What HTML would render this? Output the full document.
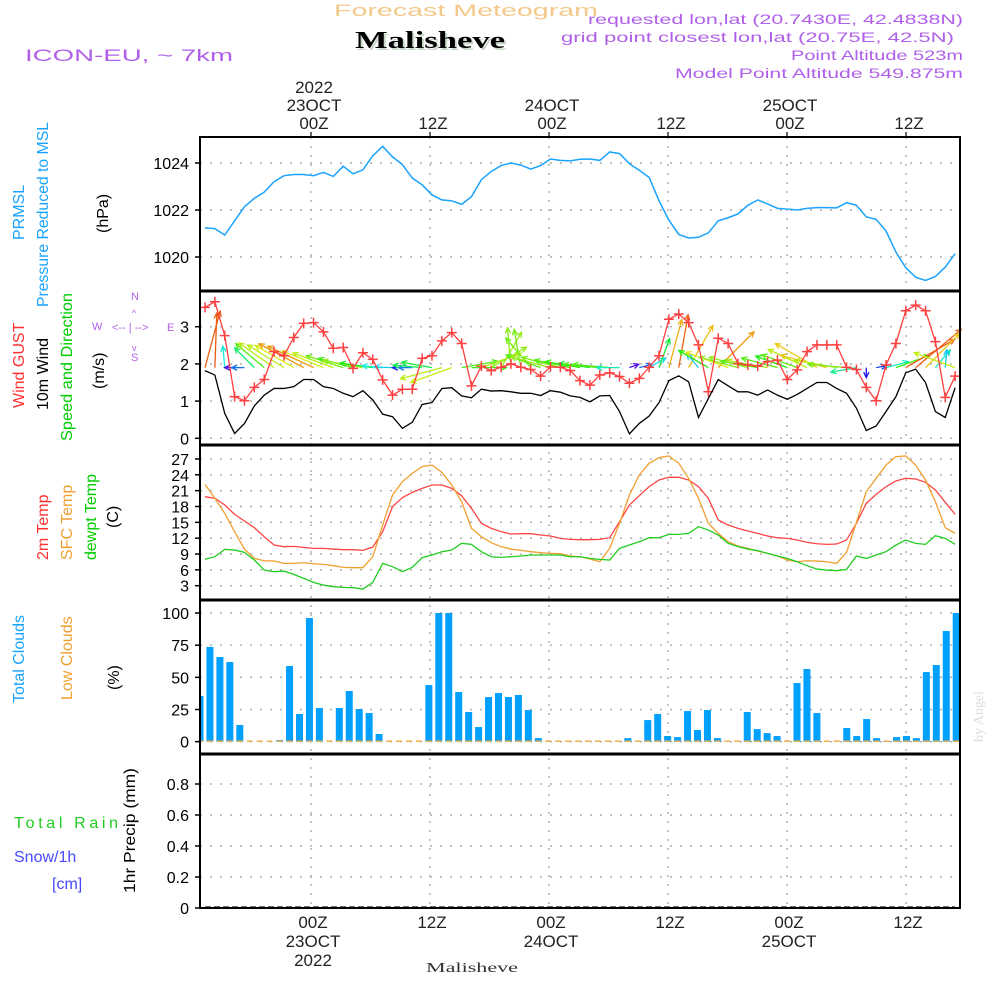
<!DOCTYPE html>
<html><head><meta charset="utf-8"><style>
html,body{margin:0;padding:0;background:#fff;width:1000px;height:1000px;overflow:hidden}
svg text{font-family:"Liberation Sans",sans-serif}
</style></head><body>
<svg id="chart" width="1000" height="1000" viewBox="0 0 1000 1000" xmlns="http://www.w3.org/2000/svg">
<rect width="1000" height="1000" fill="#fff"/>
<g>
<text x="334" y="16" font-size="17" fill="#f3c98b" textLength="264" lengthAdjust="spacingAndGlyphs">Forecast Meteogram</text>
<text x="357" y="50" font-size="24" font-weight="bold" fill="#c8d8c8" textLength="150" lengthAdjust="spacingAndGlyphs" style="font-family:'Liberation Serif',serif">Malisheve</text>
<text x="355" y="48" font-size="24" font-weight="bold" fill="#000" textLength="150" lengthAdjust="spacingAndGlyphs" style="font-family:'Liberation Serif',serif">Malisheve</text>
<text x="25" y="61" font-size="17" fill="#b060e8" textLength="208" lengthAdjust="spacingAndGlyphs">ICON-EU, ~ 7km</text>
<text x="588" y="24" font-size="14" fill="#b060e8" textLength="375" lengthAdjust="spacingAndGlyphs">requested lon,lat (20.7430E, 42.4838N)</text>
<text x="561" y="42" font-size="14" fill="#b060e8" textLength="393" lengthAdjust="spacingAndGlyphs">grid point closest lon,lat (20.75E, 42.5N)</text>
<text x="791" y="60" font-size="14" fill="#b060e8" textLength="172" lengthAdjust="spacingAndGlyphs">Point Altitude 523m</text>
<text x="675" y="78" font-size="14" fill="#b060e8" textLength="288" lengthAdjust="spacingAndGlyphs">Model Point Altitude 549.875m</text>
</g>
<g id="grid"></g>
<g id="marks"></g>
<g id="frames"></g>
<g id="labels"></g>
<g font-size="16">
<text transform="translate(24,240) rotate(-90)" fill="#1aa3ff">PRMSL</text>
<text transform="translate(48,307) rotate(-90)" fill="#1aa3ff" textLength="185" lengthAdjust="spacingAndGlyphs">Pressure Reduced to MSL</text>
<text transform="translate(108,233) rotate(-90)" fill="#000">(hPa)</text>
<text transform="translate(24,408) rotate(-90)" fill="#ff3030">Wind GUST</text>
<text transform="translate(48,410) rotate(-90)" fill="#000">10m Wind</text>
<text transform="translate(72,441) rotate(-90)" fill="#00cc00" textLength="148" lengthAdjust="spacingAndGlyphs">Speed and Direction</text>
<text transform="translate(104,389) rotate(-90)" fill="#000">(m/s)</text>
<text transform="translate(48,560) rotate(-90)" fill="#ff3030">2m Temp</text>
<text transform="translate(72,560) rotate(-90)" fill="#f0a030">SFC Temp</text>
<text transform="translate(96,560) rotate(-90)" fill="#00cc00">dewpt Temp</text>
<text transform="translate(118,528) rotate(-90)" fill="#000">(C)</text>
<text transform="translate(24,703) rotate(-90)" fill="#1aa3ff">Total Clouds</text>
<text transform="translate(72,700) rotate(-90)" fill="#f0a030">Low Clouds</text>
<text transform="translate(119,690) rotate(-90)" fill="#000">(%)</text>
<text x="14" y="828" fill="#22cc22" textLength="104" lengthAdjust="spacing">Total  Rain</text>
<text x="14" y="862" fill="#4848ff">Snow/1h</text>
<text x="52" y="889" fill="#4848ff">[cm]</text>
<text transform="translate(135,893) rotate(-90)" fill="#000" textLength="125" lengthAdjust="spacingAndGlyphs">1hr Precip (mm)</text>
<text transform="translate(983,742) rotate(-90)" fill="#ddd" font-size="14" style="font-family:'Liberation Serif',serif">by Angel</text>
</g>
<g font-size="11" fill="#b060e8">
<text x="131" y="300">N</text>
<text x="92" y="330">W</text>
<text x="167" y="331">E</text>
<text x="131" y="361">S</text>
<text x="112" y="331">&lt;-- | --&gt;</text>
<text x="132" y="316" font-size="9">^</text>
<text x="132" y="351" font-size="9">v</text>
</g>
<text x="426" y="972" font-size="14" fill="#333" textLength="92" lengthAdjust="spacingAndGlyphs" style="font-family:'Liberation Serif',serif">Malisheve</text>
</svg>
<script>
// ---- data (hourly, 77 steps starting 22 Oct ~13Z) ----
const pressure = [1021.24,1021.21,1020.93,1021.54,1022.14,1022.5,1022.76,1023.21,1023.46,1023.51,1023.51,1023.46,1023.6,1023.43,1023.86,1023.54,1023.71,1024.31,1024.71,1024.26,1023.93,1023.36,1023.07,1022.64,1022.43,1022.39,1022.24,1022.57,1023.29,1023.64,1023.89,1024,1023.91,1023.74,1023.89,1024.17,1024.11,1024.09,1024.16,
1024.17,1024.11,1024.47,1024.4,1023.97,1023.69,1023.39,1022.39,1021.57,1020.96,1020.81,1020.84,1021.03,1021.54,1021.67,1021.83,1022.2,1022.43,1022.26,1022.07,1022.04,1022,1022.07,1022.1,1022.1,1022.09,1022.31,1022.2,1021.71,1021.6,1021.11,1020.21,1019.54,1019.14,1019,1019.17,1019.57,1020.14];
const wind10m = [1.82,1.70,0.67,0.13,0.40,0.87,1.16,1.34,1.34,1.39,1.58,1.58,1.39,1.34,1.21,1.12,1.28,1.03,0.65,0.58,0.27,0.43,0.91,0.96,1.34,1.36,1.14,1.09,1.32,1.27,1.28,1.25,1.21,1.21,1.15,1.28,1.24,1.14,1.10,
0.98,1.14,1.15,0.72,0.12,0.40,0.60,0.96,1.55,1.68,1.52,0.56,1.07,1.58,1.41,1.25,1.25,1.16,1.30,1.16,1.05,1.18,1.34,1.50,1.50,1.34,1.21,0.81,0.21,0.33,0.72,1.12,1.76,1.86,1.50,0.72,0.56,1.36];
const gust = [3.52,3.67,2.76,1.12,1.01,1.37,1.58,2.33,2.22,2.71,3.09,3.11,2.86,2.42,2.44,1.88,2.30,2.12,1.57,1.16,1.32,1.32,2.15,2.22,2.62,2.84,2.55,1.41,1.94,1.82,1.91,2.0,1.91,1.85,1.67,1.92,1.91,1.82,1.55,
1.43,1.70,1.76,1.66,1.48,1.61,1.91,2.22,3.20,3.34,3.11,2.51,1.25,2.69,2.55,2.01,1.97,1.94,2.06,2.10,1.58,1.84,2.33,2.51,2.51,2.51,1.91,1.85,1.37,1.01,1.97,2.55,3.43,3.58,3.43,2.60,1.10,1.67];
const windDir = [75,88,95,180,180,135,140,145,148,150,152,155,158,160,162,165,170,172,175,178,180,180,175,170,195,200,10,0,20,30,60,95,100,130,160,165,165,168,170,172,175,175,180,20,15,30,70,75,80,60,130,150,45,160,165,165,170,170,165,160,160,155,150,165,170,175,190,270,10,15,20,30,40,45,50,85,160];
const temp2m = [19.86,19.55,18.28,16.51,15.25,13.99,12.28,10.70,10.39,10.45,10.26,10.07,10.07,9.94,9.82,9.82,9.69,10.32,13.23,17.97,19.67,20.68,21.44,22.07,22.07,21.44,20.05,17.65,14.81,13.86,13.23,12.79,12.85,12.85,12.60,12.41,11.97,11.78,
11.71,11.71,11.78,12.09,15.12,18.28,20.05,21.76,23.02,23.53,23.53,23.02,21.76,19.55,15.44,14.49,13.86,13.36,12.91,12.41,12.09,11.97,11.65,11.21,10.95,10.83,10.89,11.65,14.81,18.60,20.30,21.76,22.83,23.34,23.21,22.58,21.13,18.79,16.51];
const tempSfc = [22.2,19.55,16.70,13.23,9.94,8.17,7.73,7.67,7.23,7.23,7.35,7.16,7.04,6.79,6.47,6.41,6.41,8.49,14.49,20.18,22.70,24.28,25.55,25.86,24.47,22.07,18.91,13.86,12.28,11.14,10.39,9.94,9.69,9.44,9.25,9.12,9.06,8.62,
8.49,8.05,7.54,10.07,14.81,20.18,23.97,26.18,27.25,27.57,26.18,23.34,19.55,14.81,12.91,11.33,10.51,10.07,9.56,9.12,8.62,7.86,7.54,7.73,7.67,7.54,7.23,9.31,15.0,20.81,23.34,25.86,27.44,27.57,25.86,23.02,18.91,13.99,12.91];
const dewpt = [7.99,8.49,9.88,9.75,9.31,7.86,5.96,5.65,5.77,5.14,4.39,3.63,3.12,2.81,2.68,2.62,2.36,3.63,7.23,6.60,5.65,6.47,8.30,8.81,9.44,9.75,11.02,10.83,9.44,8.49,8.36,8.49,8.62,8.81,8.81,8.81,8.81,8.49,
8.49,8.17,7.99,7.86,10.07,10.70,11.33,12.09,12.09,12.72,12.72,12.91,14.18,13.54,12.60,11.02,10.39,9.94,9.63,9.12,8.62,8.17,7.54,6.79,6.15,5.96,5.84,6.09,8.62,8.17,8.81,9.44,10.70,11.65,11.02,10.83,12.47,11.97,10.83];
const totalClouds = [35.5,73.6,65.8,61.9,13.0,0,0,0,1.3,58.8,21.5,96.1,26.2,0,26.2,39.4,25.4,22.3,6.0,0,0,0,0,44.0,100,100,38.6,23.1,11.4,34.7,37.8,34.7,36.3,24.6,2.8,0,0,0,
0,0,0,0,0,2.8,0,16.8,21.5,4.4,3.6,23.8,9.1,24.6,2.8,0,0,23.1,9.8,6.7,4.4,0,45.6,56.5,22.3,0,0,10.6,4.4,17.6,2.8,0.5,3.6,4.4,2.8,54.1,59.6,86,100];
const lowClouds = new Array(77).fill(0);
const precip = new Array(77).fill(0);
const pressTicks = [1020,1022,1024];
const windTicks = [0,1,2,3];
const tempTicks = [3,6,9,12,15,18,21,24,27];
const cloudTicks = [0,25,50,75,100];
const precipTicks = [0,0.2,0.4,0.6,0.8];
const precipTickLabels = ["0","0.2","0.4","0.6","0.8"];
const timeHours = [0,12,24,36,48,60];
const topTimeLabels = [["2022","23OCT","00Z"],["","","12Z"],["","24OCT","00Z"],["","","12Z"],["","25OCT","00Z"],["","","12Z"]];
const bottomTimeLabels = [["00Z","23OCT","2022"],["12Z","",""],["00Z","24OCT",""],["12Z","",""],["00Z","25OCT",""],["12Z","",""]];

// ---- scales ----
const X0=200, X1=960;
const xLine = i => 205 + i*9.87;
const xBar = k => 200 + k*9.95;
const xHour = h => 311 + h*9.917;
const yP = p => 163 + (1024-p)*23.5;
const yW = v => 438.3 - v*37.2;
const yT = t => 585.7 - (t-3)*5.28;
const yC = c => 741.7 - c*1.287;
const yR = r => 908 - r*155;
const panels = [[137,291],[291,445],[445,600],[600,754],[754,908]];

const NS="http://www.w3.org/2000/svg";
function mk(tag, parent, attrs){const e=document.createElementNS(NS,tag);for(const k in attrs)e.setAttribute(k,attrs[k]);parent.appendChild(e);return e;}
const grid=document.getElementById('grid'), marks=document.getElementById('marks'), frames=document.getElementById('frames'), labels=document.getElementById('labels');

// grid horizontals and tick labels
function hgrid(ticks, yf, texts, name){
  ticks.forEach((t,j)=>{
    const l=mk('line',grid,{x1:X0,x2:X1,y1:yf(t),y2:yf(t),stroke:'#aaa','stroke-width':1.4,'stroke-dasharray':'2 8'});
    
    
    const tk=mk('line',frames,{x1:X0-5,x2:X0,y1:yf(t),y2:yf(t),stroke:'#000','stroke-width':1.5});
    
    
    const tx=mk('text',labels,{x:X0-11,y:yf(t)+6,'font-size':16,'text-anchor':'end',fill:'#000'});
    tx.textContent = texts ? texts[j] : String(t);
    
    
  });
}
hgrid(pressTicks,yP,null,'pressure');
hgrid(windTicks,yW,null,'wind');
hgrid(tempTicks,yT,null,'temp');
hgrid(cloudTicks,yC,null,'cloud');
hgrid(precipTicks,yR,precipTickLabels,'precip');
timeHours.forEach((h,j)=>{
  const x=xHour(h);
  const v=mk('line',grid,{x1:x,x2:x,y1:137,y2:908,stroke:'#aaa','stroke-width':1.4,'stroke-dasharray':'2 7'});
  
  
  const t1=mk('line',frames,{x1:x,x2:x,y1:132,y2:137,stroke:'#000','stroke-width':1.2});
  
  
  topTimeLabels[j].forEach((s,r)=>{ if(!s)return;
    const t=mk('text',labels,{x:x+3,y:93+r*18,'font-size':17,'text-anchor':'middle',fill:'#222'}); t.textContent=s;
    
    
  });
  bottomTimeLabels[j].forEach((s,r)=>{ if(!s)return;
    const t=mk('text',labels,{x:x+2,y:928+r*19,'font-size':17,'text-anchor':'middle',fill:'#222'}); t.textContent=s;
    
    
  });
});

// pressure line
const pp=mk('polyline',marks,{points:pressure.map((p,i)=>xLine(i)+','+yP(p)).join(' '),fill:'none',stroke:'#1aa3ff','stroke-width':1.5});



// wind arrows
windDir.forEach((d,i)=>{
  const s=wind10m[i]; const L=Math.max(10,32*s);
  const x0=xLine(i), y0=yW(1.9);
  const a=d*Math.PI/180, x1=x0+L*Math.cos(a), y1=y0-L*Math.sin(a);
  const hue=Math.max(20,Math.min(275,275-s*150));
  const col='hsl('+hue+',85%,50%)';
  const g=mk('g',marks,{stroke:col,'stroke-width':1.3,fill:'none'});
  
  
  mk('line',g,{x1:x0,y1:y0,x2:x1,y2:y1});
  const h1=a+Math.PI-0.45,h2=a+Math.PI+0.45;
  mk('polyline',g,{points:(x1+6*Math.cos(h1))+','+(y1-6*Math.sin(h1))+' '+x1+','+y1+' '+(x1+6*Math.cos(h2))+','+(y1-6*Math.sin(h2))});
});
// gust
const gl=mk('polyline',marks,{points:gust.map((v,i)=>xLine(i)+','+yW(v)).join(' '),fill:'none',stroke:'#ff4040','stroke-width':1.3});


gust.forEach((v,i)=>{
  const x=xLine(i),y=yW(v);
  const m=mk('path',marks,{d:'M'+(x-5)+' '+y+'H'+(x+5)+'M'+x+' '+(y-5)+'V'+(y+5),stroke:'#ff4040','stroke-width':1.5});
  
  
});
const wl=mk('polyline',marks,{points:wind10m.map((v,i)=>xLine(i)+','+yW(v)).join(' '),fill:'none',stroke:'#000','stroke-width':1.3});



// temperatures
const t1=mk('polyline',marks,{points:temp2m.map((v,i)=>xLine(i)+','+yT(v)).join(' '),fill:'none',stroke:'#ff4444','stroke-width':1.3});


const t2=mk('polyline',marks,{points:tempSfc.map((v,i)=>xLine(i)+','+yT(v)).join(' '),fill:'none',stroke:'#f0a030','stroke-width':1.3});


const t3=mk('polyline',marks,{points:dewpt.map((v,i)=>xLine(i)+','+yT(v)).join(' '),fill:'none',stroke:'#22cc22','stroke-width':1.3});



// clouds
totalClouds.forEach((c,k)=>{
  const x=Math.max(X0,xBar(k)-3.5), w=Math.min(xBar(k)+3.5,X1)-x;
  const r=mk('rect',marks,{x:x,y:yC(c),width:w,height:yC(0)-yC(c),fill:'#00a0ff'});
  
  
  const lc=mk('line',marks,{x1:xBar(k)-3,x2:xBar(k)+3,y1:yC(lowClouds[k])-0.5,y2:yC(lowClouds[k])-0.5,stroke:'#f0b050','stroke-width':1.5});
  
  
});
// precip baseline
const pl=mk('polyline',marks,{points:precip.map((v,i)=>xLine(i)+','+(yR(v)-1)).join(' '),fill:'none',stroke:'#444','stroke-width':1.5,'stroke-dasharray':'6 3'});



// frames
panels.forEach((p,j)=>{
  const r=mk('rect',frames,{x:X0,y:p[0],width:X1-X0,height:p[1]-p[0],fill:'none',stroke:'#000','stroke-width':2});
  
  
  if(j>0){const s=mk('line',frames,{x1:X0,x2:X1,y1:p[0],y2:p[0],stroke:'#000','stroke-width':3});
    
    }
});
</script>
</body></html>
